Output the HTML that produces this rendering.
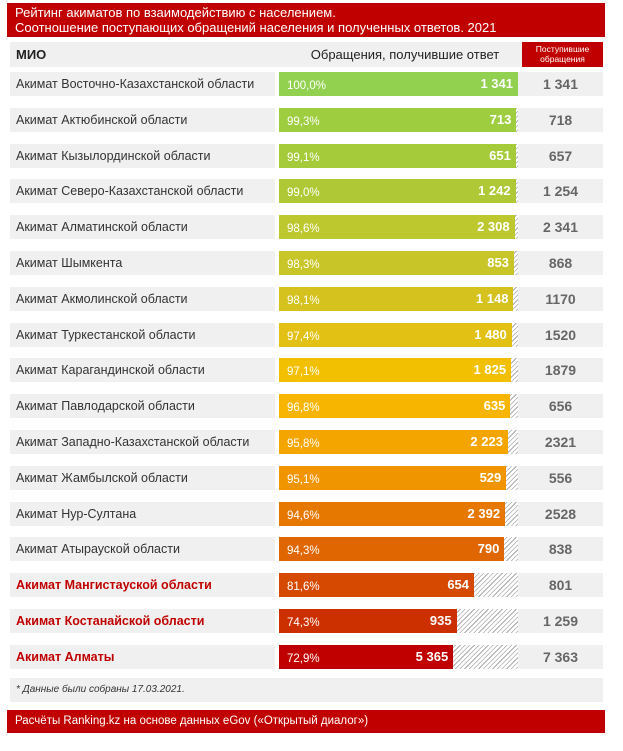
<!DOCTYPE html><html><head><meta charset="utf-8"><style>
body{margin:0;width:623px;height:751px;background:#fff;font-family:"Liberation Sans","DejaVu Sans",sans-serif;position:relative;overflow:hidden}
div{position:absolute;box-sizing:border-box}
.t{left:7px;top:3px;width:598px;height:34px;background:#c00000;color:#fff;font-size:13px;line-height:15px;padding:2px 8px}
.lab{left:10px;width:265px;height:24px;background:#f0f0f0;font-size:12.5px;line-height:24px;padding-left:6px;color:#333;white-space:nowrap}
.lab.r{color:#c00000;font-weight:bold}
.hat{left:279px;width:239px;height:24px;background:repeating-linear-gradient(135deg,#fff 0 2.5px,#aaa 2.5px 3.3px)}
.bar{left:279px;height:24px;color:#fff;font-size:11.5px;line-height:24px}
.bar .p{left:8px;top:2px}
.bar .v{right:5px;top:0;font-weight:bold;font-size:13px}
.rv{left:518px;width:85px;height:24px;background:#f0f0f0;color:#666;font-weight:bold;font-size:14px;line-height:24px;text-align:center}
</style></head><body>
<div class="t">Рейтинг акиматов по взаимодействию с населением.<br>Соотношение поступающих обращений населения и полученных ответов. 2021</div>
<div style="left:10px;top:42px;width:540px;height:25px;background:#f0f0f0"></div>
<div style="left:16px;top:42px;font-size:13px;line-height:25px;font-weight:bold;color:#222">МИО</div>
<div style="left:290px;top:42px;width:230px;text-align:center;font-size:13px;line-height:25px;color:#222">Обращения, получившие ответ</div>
<div style="left:522px;top:42px;width:81px;height:25px;background:#c00000;color:#fff;font-size:8.5px;line-height:10px;text-align:center;padding-top:2px">Поступившие<br>обращения</div>
<div id="rows"></div>
<div style="left:10px;top:678px;width:593px;height:24px;background:#f0f0f0;font-size:10px;font-style:italic;line-height:24px;padding-left:6px;color:#333">* Данные были собраны 17.03.2021.</div>
<div style="left:7px;top:710px;width:598px;height:23px;background:#c00000;color:#fff;font-size:11.5px;line-height:23px;padding-left:8px">Расчёты Ranking.kz на основе данных eGov («Открытый диалог»)</div>
<script>
var d=[["Акимат Восточно-Казахстанской области","100,0%",100,"1 341","1 341","#92d050"],
["Акимат Актюбинской области","99,3%",99.3,"713","718","#9fcd40"],
["Акимат Кызылординской области","99,1%",99.1,"651","657","#a6cb3a"],
["Акимат Северо-Казахстанской области","99,0%",99.0,"1 242","1 254","#aec935"],
["Акимат Алматинской области","98,6%",98.6,"2 308","2 341","#bdc72e"],
["Акимат Шымкента","98,3%",98.3,"853","868","#c8c528"],
["Акимат Акмолинской области","98,1%",98.1,"1 148","1170","#d5c21e"],
["Акимат Туркестанской области","97,4%",97.4,"1 480","1520","#e2c114"],
["Акимат Карагандинской области","97,1%",97.1,"1 825","1879","#f2c000"],
["Акимат Павлодарской области","96,8%",96.8,"635","656","#f7b500"],
["Акимат Западно-Казахстанской области","95,8%",95.8,"2 223","2321","#f5a500"],
["Акимат Жамбылской области","95,1%",95.1,"529","556","#f09500"],
["Акимат Нур-Султана","94,6%",94.6,"2 392","2528","#e67800"],
["Акимат Атырауской области","94,3%",94.3,"790","838","#df6600"],
["Акимат Мангистауской области","81,6%",81.6,"654","801","#d54a00"],
["Акимат Костанайской области","74,3%",74.3,"935","1 259","#cc3000"],
["Акимат Алматы","72,9%",72.9,"5 365","7 363","#c00000"]];
var h="";d.forEach(function(r,i){var y=72+i*35.8;var w=239*r[2]/100;
h+='<div class="lab'+(i>13?' r':'')+'" style="top:'+y+'px">'+r[0]+'</div><div class="hat" style="top:'+y+'px"></div><div class="bar" style="top:'+y+'px;width:'+w+'px;background:'+r[5]+'"><div class="p">'+r[1]+'</div><div class="v">'+r[3]+'</div></div><div class="rv" style="top:'+y+'px">'+r[4]+'</div>';});
document.getElementById("rows").outerHTML=h;
</script>
</body></html>
